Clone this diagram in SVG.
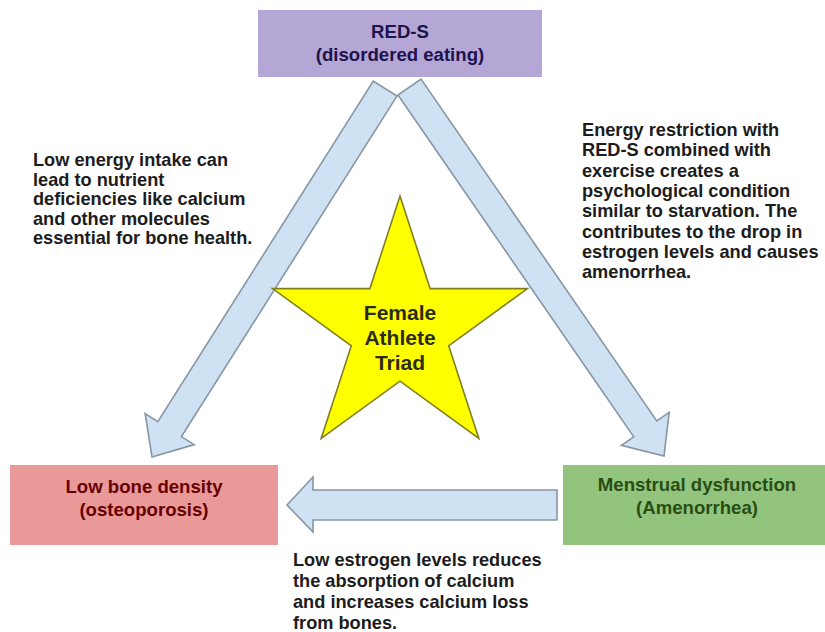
<svg xmlns="http://www.w3.org/2000/svg" xmlns:xlink="http://www.w3.org/1999/xlink" width="825" height="632" viewBox="0 0 825 632">
<style>
.box-t{font-family:"Liberation Sans",Arial,sans-serif;font-weight:bold;font-size:18.6px;text-anchor:middle}
.cap{font-family:"Liberation Sans",Arial,sans-serif;font-weight:bold;font-size:18.2px;fill:#1c1c1c}
.star-t{font-family:"Liberation Sans",Arial,sans-serif;font-weight:bold;font-size:21px;text-anchor:middle;fill:#2b2b18}
.arrow-fill{fill:#cfe2f3;stroke:none}
.arrow-line{fill:none;stroke:#8796a4;stroke-width:1.6;stroke-linejoin:miter}
</style>
<defs>
<polygon id="pL" points="396.93,96.08 181.47,436.59 194.15,444.61 152,457 145.13,413.61 157.81,421.63 373.27,81.12"/>
<polygon id="pR" points="397.98,95.05 633.74,436.79 621.39,445.31 664,456 669.13,412.37 656.78,420.89 421.02,79.15"/>
<polygon id="pH" points="557,490 313,490 313,477 287,505 313,532 313,520 557,520"/>
</defs>
<rect width="825" height="632" fill="#ffffff"/>

<g id="node-reds">
<rect x="258" y="10" width="284" height="67" fill="#b4a7d6"/>
<text class="box-t" x="400" y="38" fill="#20124d">RED-S</text>
<text class="box-t" x="400" y="61" fill="#20124d">(disordered eating)</text>
</g>

<g id="node-bone">
<rect x="10" y="465" width="268" height="80" fill="#ea9999"/>
<text class="box-t" x="144" y="493" fill="#660000">Low bone density</text>
<text class="box-t" x="144" y="516" fill="#660000">(osteoporosis)</text>
</g>

<g id="node-menstrual">
<rect x="563" y="465" width="262" height="80" fill="#93c47d"/>
<text class="box-t" x="697" y="491" fill="#274e13">Menstrual dysfunction</text>
<text class="box-t" x="697" y="514" fill="#274e13">(Amenorrhea)</text>
</g>

<g id="connectors">
<use xlink:href="#pL" class="arrow-fill"/>
<use xlink:href="#pR" class="arrow-fill"/>
<use xlink:href="#pH" class="arrow-fill"/>
<use xlink:href="#pL" class="arrow-line"/>
<use xlink:href="#pR" class="arrow-line"/>
<use xlink:href="#pH" class="arrow-line"/>
</g>

<g id="node-triad">
<polygon points="400,196 430.1,288.6 527.4,288.6 448.7,345.8 478.8,438.4 400,381.2 321.2,438.4 351.3,345.8 272.6,288.6 369.9,288.6" fill="#ffff00" stroke="#808020" stroke-width="1.6"/>
<text class="star-t" x="400" y="320">Female</text>
<text class="star-t" x="400" y="345">Athlete</text>
<text class="star-t" x="400" y="370">Triad</text>
</g>

<g id="label-left">
<text class="cap" x="33" y="166">Low energy intake can</text>
<text class="cap" x="33" y="185.5">lead to nutrient</text>
<text class="cap" x="33" y="205">deficiencies like calcium</text>
<text class="cap" x="33" y="224.5">and other molecules</text>
<text class="cap" x="33" y="244">essential for bone health.</text>
</g>

<g id="label-right">
<text class="cap" x="582" y="136">Energy restriction with</text>
<text class="cap" x="582" y="156.3">RED-S combined with</text>
<text class="cap" x="582" y="176.6">exercise creates a</text>
<text class="cap" x="582" y="196.9">psychological condition</text>
<text class="cap" x="582" y="217.2">similar to starvation. The</text>
<text class="cap" x="582" y="237.5">contributes to the drop in</text>
<text class="cap" x="582" y="257.8">estrogen levels and causes</text>
<text class="cap" x="582" y="278.1">amenorrhea.</text>
</g>

<g id="label-bottom">
<text class="cap" x="293" y="566">Low estrogen levels reduces</text>
<text class="cap" x="293" y="587">the absorption of calcium</text>
<text class="cap" x="293" y="608">and increases calcium loss</text>
<text class="cap" x="293" y="629">from bones.</text>
</g>
</svg>
